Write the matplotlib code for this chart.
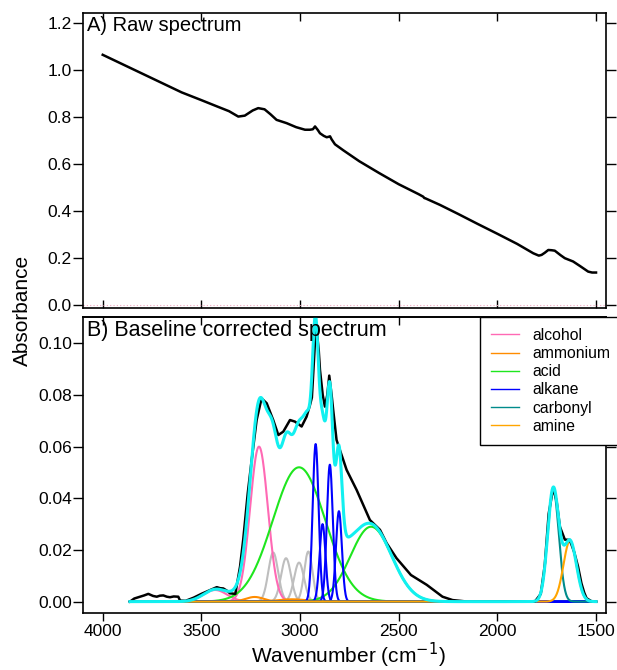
import numpy as np
import matplotlib
matplotlib.use('Agg')
import matplotlib.pyplot as plt
from matplotlib.lines import Line2D

plt.rcParams['font.family'] = ['Liberation Sans', 'DejaVu Sans']

# A) raw spectrum (read off the picture)
raw_wn = [4000, 3900, 3800, 3700, 3600, 3500, 3420, 3360, 3313, 3280, 3240, 3212,
          3180, 3150, 3119, 3068, 3020, 2975, 2950, 2935, 2924, 2910, 2899, 2880,
          2865, 2855, 2848, 2840, 2823, 2780, 2700, 2600, 2500, 2400, 2376, 2370,
          2365, 2291, 2200, 2100, 2000, 1900, 1818, 1790, 1776, 1760, 1742, 1725,
          1709, 1680, 1658, 1616, 1580, 1540, 1520, 1500]
raw_abs = [1.065, 1.025, 0.985, 0.945, 0.905, 0.872, 0.845, 0.825, 0.802, 0.806, 0.828, 0.838,
           0.833, 0.812, 0.788, 0.774, 0.757, 0.746, 0.746, 0.748, 0.760, 0.745, 0.731, 0.720,
           0.714, 0.716, 0.718, 0.705, 0.684, 0.658, 0.612, 0.562, 0.514, 0.472, 0.461, 0.455,
           0.454, 0.426, 0.388, 0.345, 0.303, 0.260, 0.220, 0.210, 0.213, 0.222, 0.234, 0.233,
           0.231, 0.212, 0.199, 0.185, 0.165, 0.142, 0.138, 0.138]

# B) baseline corrected spectrum
bc_wn = [3862, 3840, 3811, 3790, 3769, 3745, 3726, 3710, 3693, 3675, 3659, 3640,
         3617, 3608, 3580, 3540, 3500, 3473, 3440, 3422, 3405, 3389, 3370, 3355,
         3328, 3304, 3288, 3265, 3245, 3220, 3195, 3169, 3136, 3110, 3085, 3051,
         3026, 2992, 2967, 2950, 2940, 2933, 2919, 2905, 2899, 2885, 2874, 2862,
         2852, 2840, 2832, 2815, 2798, 2764, 2713, 2646, 2595, 2561, 2511, 2438,
         2358, 2278, 2227, 2150, 2000, 1850, 1810, 1780, 1760, 1740, 1717, 1700,
         1683, 1658, 1633, 1610, 1591, 1574, 1560, 1548, 1520, 1500]
bc_abs = [0.000, 0.0012, 0.0019, 0.0024, 0.0030, 0.0022, 0.0019, 0.0023, 0.0024, 0.0019, 0.0017, 0.0020,
          0.0019, 0.0004, 0.0003, 0.0015, 0.0030, 0.0039, 0.0050, 0.0056, 0.0052, 0.0051, 0.0042, 0.0032,
          0.0030, 0.0136, 0.024, 0.042, 0.0549, 0.0703, 0.0787, 0.0768, 0.0703, 0.0645, 0.0658, 0.0703,
          0.0697, 0.0678, 0.0716, 0.076, 0.079, 0.0885, 0.1078, 0.097, 0.0897, 0.080, 0.0755, 0.080,
          0.0875, 0.080, 0.0742, 0.0626, 0.0587, 0.051, 0.0432, 0.0316, 0.0278, 0.0226, 0.0168, 0.0103,
          0.0065, 0.0019, 0.0006, 0.0, 0.0, 0.0, 0.0, 0.003, 0.014, 0.034, 0.044, 0.039,
          0.029, 0.024, 0.0239, 0.019, 0.0135, 0.0071, 0.0035, 0.0013, 0.0, 0.0]

# fitted peaks: (centre cm-1, height, width cm-1)
alcohol = [(3430, 0.0045, 60), (3208, 0.060, 45)]
ammonium = [(3230, 0.0018, 45), (3040, 0.0009, 70)]
acid = [(3005, 0.052, 133), (2640, 0.029, 105)]
alkane = [(2921, 0.061, 15), (2886, 0.030, 15), (2849, 0.053, 15), (2803, 0.035, 15)]
carbonyl = [(1717, 0.0435, 28)]
amine = [(1632, 0.0235, 33)]
other = [(3136, 0.019, 25), (3071, 0.0168, 25), (3005, 0.0151, 25), (2958, 0.0194, 21)]

groups = [('alcohol', alcohol, '#FF69B4'),
          ('ammonium', ammonium, '#FF8C00'),
          ('acid', acid, '#1EE61E'),
          ('alkane', alkane, '#0000FF'),
          ('carbonyl', carbonyl, '#008B8B'),
          ('amine', amine, '#FFA500')]

wn = np.linspace(3862, 1500, 2400)


def gauss(c, h, s):
    return h * np.exp(-(wn - c) ** 2 / (2 * s ** 2))


fig = plt.figure(figsize=(6.17, 6.70), dpi=100)
ax1 = fig.add_axes([0.1345, 0.5403, 0.8475, 0.4403])
ax2 = fig.add_axes([0.1345, 0.0851, 0.8475, 0.4418])

# --- A) raw spectrum
ax1.axhline(0, color='#F4A6C0', ls=(0, (1, 2)), lw=0.8)
ax1.plot(raw_wn, raw_abs, color='black', lw=1.8)
ax1.set_ylim(-0.013, 1.243)
ax1.set_yticks(np.arange(0, 1.21, 0.2))
ax1.set_yticklabels([f'{v:.1f}' for v in np.arange(0, 1.21, 0.2)])
ax1.text(0.008, 0.99, 'A) Raw spectrum', transform=ax1.transAxes,
         fontsize=14.5, va='top', ha='left')

# --- B) baseline corrected spectrum
fit = np.zeros_like(wn)
for c, h, s in other:
    ax2.plot(wn, gauss(c, h, s), color='#BEBEBE', lw=1.5)
    fit += gauss(c, h, s)
handles = []
for name, pk, col in groups:
    for c, h, s in pk:
        ax2.plot(wn, gauss(c, h, s), color=col, lw=1.5)
        fit += gauss(c, h, s)
    handles.append(Line2D([], [], color=col, lw=1.0, label=name))

ax2.plot(bc_wn, bc_abs, color='black', lw=1.8)
ax2.plot(wn, fit, color='#12F0F0', lw=2.2)
ax2.set_ylim(-0.0044, 0.1102)
ax2.set_yticks(np.arange(0, 0.101, 0.02))
ax2.set_yticklabels([f'{v:.2f}' for v in np.arange(0, 0.101, 0.02)])
ax2.text(0.008, 0.99, 'B) Baseline corrected spectrum', transform=ax2.transAxes,
         fontsize=15.5, va='top', ha='left')

leg = ax2.legend(handles=handles, loc='upper left', bbox_to_anchor=(0.759, 1.0),
                 borderaxespad=0, fontsize=11.3, handlelength=1.8, handletextpad=0.85,
                 labelspacing=0.2, borderpad=0.7, fancybox=False, framealpha=1)
leg.get_frame().set_edgecolor('black')
leg.get_frame().set_linewidth(1.0)

xt = [4000, 3500, 3000, 2500, 2000, 1500]
for ax in (ax1, ax2):
    ax.set_xlim(4100, 1450)
    ax.set_xticks(xt)
    ax.tick_params(axis='y', direction='out', left=True, right=True,
                   length=7, width=1, labelsize=12.5, pad=1)
    for sp in ax.spines.values():
        sp.set_linewidth(1.2)

ax1.tick_params(axis='x', direction='in', top=True, bottom=True,
                labelbottom=False, length=6, width=1)
ax2.tick_params(axis='x', direction='out', length=6, width=1,
                labelsize=12.5, pad=2)
sec = ax2.secondary_xaxis('top')
sec.set_xticks(xt)
sec.tick_params(direction='in', length=6, width=1, labeltop=False)
sec.spines['top'].set_linewidth(1.2)

fig.text(0.036, 0.537, 'Absorbance', rotation=90, fontsize=15,
         ha='center', va='center')
fig.text(0.565, 0.022, 'Wavenumber (cm$^{-1}$)', fontsize=15,
         ha='center', va='center')

fig.savefig('out.png', dpi=100)
